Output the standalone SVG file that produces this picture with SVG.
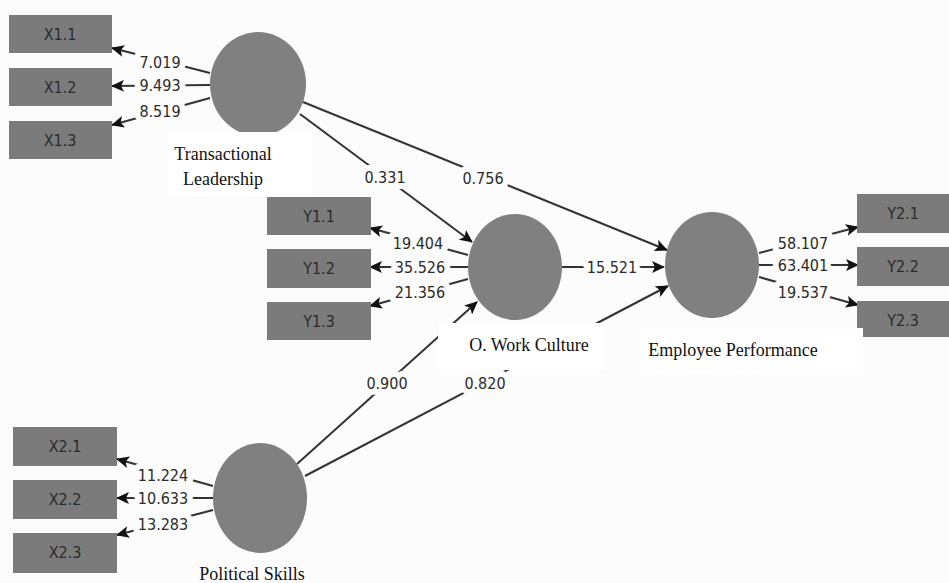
<svg xmlns="http://www.w3.org/2000/svg" width="949" height="583" viewBox="0 0 949 583">
<style>
.bg{fill:#fcfcfc}
.box{fill:#7b7b7b}
.bt{font-family:"DejaVu Sans Condensed","DejaVu Sans",sans-serif;font-size:16px;fill:#2b2b2b;text-anchor:middle}
.lv{fill:#808080}
.lab{fill:#ffffff}
.lt{font-family:"Liberation Serif","Times New Roman",serif;font-size:18px;fill:#111;text-anchor:middle}
.ln{stroke:#333;stroke-width:2;fill:none;marker-end:url(#ah)}
.num{font-family:"DejaVu Sans Condensed","DejaVu Sans",sans-serif;font-size:16px;fill:#2b2b2b;text-anchor:middle;paint-order:stroke;stroke:#fcfcfc;stroke-width:12px;stroke-linejoin:round}
</style>
<defs>
<marker id="ah" markerWidth="13" markerHeight="12" refX="12" refY="6" orient="auto" markerUnits="userSpaceOnUse">
<path d="M0,0 L13,6 L0,12 L3,6 z" fill="#111"/>
</marker>
</defs>
<rect class="bg" x="0" y="0" width="949" height="583"/>

<g id="connectors">
<line class="ln" x1="210" y1="73" x2="112" y2="48"/>
<line class="ln" x1="210" y1="85" x2="112" y2="86"/>
<line class="ln" x1="210" y1="98" x2="112" y2="125"/>
<line class="ln" x1="468" y1="255" x2="370" y2="228"/>
<line class="ln" x1="468" y1="267" x2="370" y2="267"/>
<line class="ln" x1="468" y1="279" x2="370" y2="306"/>
<line class="ln" x1="759" y1="253" x2="858" y2="227"/>
<line class="ln" x1="759" y1="265" x2="858" y2="265"/>
<line class="ln" x1="759" y1="277" x2="858" y2="305"/>
<line class="ln" x1="213" y1="486" x2="117" y2="459"/>
<line class="ln" x1="213" y1="498" x2="117" y2="498"/>
<line class="ln" x1="213" y1="510" x2="117" y2="535"/>
<line class="ln" x1="300" y1="114" x2="472" y2="242"/>
<line class="ln" x1="303" y1="102" x2="667" y2="250"/>
<line class="ln" x1="562" y1="267" x2="664" y2="267"/>
<line class="ln" x1="297" y1="464" x2="477" y2="302"/>
<line class="ln" x1="305" y1="476" x2="668" y2="286"/>
</g>

<g id="TL">
<ellipse class="lv" cx="258" cy="84" rx="48" ry="52"/>
<rect class="lab" x="168" y="132" width="144" height="64"/>
<text class="lt" x="223" y="160">Transactional</text>
<text class="lt" x="223" y="185">Leadership</text>
</g>
<g id="OWC">
<ellipse class="lv" cx="515" cy="267" rx="47" ry="53"/>
<rect class="lab" x="438" y="323" width="168" height="47"/>
<text class="lt" x="529" y="351">O. Work Culture</text>
</g>
<g id="EP">
<ellipse class="lv" cx="712" cy="265" rx="47" ry="53"/>
<rect class="lab" x="640" y="329" width="223" height="45"/>
<text class="lt" x="733" y="356">Employee Performance</text>
</g>
<g id="PS">
<ellipse class="lv" cx="260" cy="498" rx="47" ry="55"/>
<text class="lt" x="252" y="580">Political Skills</text>
</g>

<g id="X1.1"><rect class="box" x="9" y="15" width="103" height="38"/><text class="bt" x="60" y="40">X1.1</text></g>
<g id="X1.2"><rect class="box" x="9" y="68" width="103" height="38"/><text class="bt" x="60" y="93">X1.2</text></g>
<g id="X1.3"><rect class="box" x="9" y="121" width="103" height="38"/><text class="bt" x="60" y="146">X1.3</text></g>
<g id="Y1.1"><rect class="box" x="267" y="197" width="104" height="38"/><text class="bt" x="319" y="222">Y1.1</text></g>
<g id="Y1.2"><rect class="box" x="267" y="249" width="104" height="39"/><text class="bt" x="319" y="274">Y1.2</text></g>
<g id="Y1.3"><rect class="box" x="267" y="302" width="104" height="38"/><text class="bt" x="319" y="327">Y1.3</text></g>
<g id="Y2.1"><rect class="box" x="857" y="194" width="92" height="39"/><text class="bt" x="903" y="219">Y2.1</text></g>
<g id="Y2.2"><rect class="box" x="857" y="247" width="92" height="39"/><text class="bt" x="903" y="272">Y2.2</text></g>
<g id="Y2.3"><rect class="box" x="857" y="301" width="92" height="27"/><rect class="box" x="863" y="328" width="86" height="9"/><text class="bt" x="903" y="326">Y2.3</text></g>
<g id="X2.1"><rect class="box" x="13" y="427" width="104" height="39"/><text class="bt" x="65" y="452">X2.1</text></g>
<g id="X2.2"><rect class="box" x="13" y="480" width="104" height="39"/><text class="bt" x="65" y="505">X2.2</text></g>
<g id="X2.3"><rect class="box" x="13" y="533" width="104" height="40"/><text class="bt" x="65" y="558">X2.3</text></g>

<g id="labels">
<text class="num" x="160" y="68">7.019</text>
<text class="num" x="160" y="91">9.493</text>
<text class="num" x="160" y="117">8.519</text>
<text class="num" x="418" y="249">19.404</text>
<text class="num" x="420" y="273">35.526</text>
<text class="num" x="420" y="298">21.356</text>
<text class="num" x="803" y="249">58.107</text>
<text class="num" x="803" y="271">63.401</text>
<text class="num" x="803" y="298">19.537</text>
<text class="num" x="163" y="481">11.224</text>
<text class="num" x="163" y="504">10.633</text>
<text class="num" x="163" y="530">13.283</text>
<text class="num" x="385" y="183">0.331</text>
<text class="num" x="483" y="184">0.756</text>
<text class="num" x="612" y="273">15.521</text>
<text class="num" x="387" y="389">0.900</text>
<text class="num" x="485" y="389">0.820</text>
</g>
</svg>
